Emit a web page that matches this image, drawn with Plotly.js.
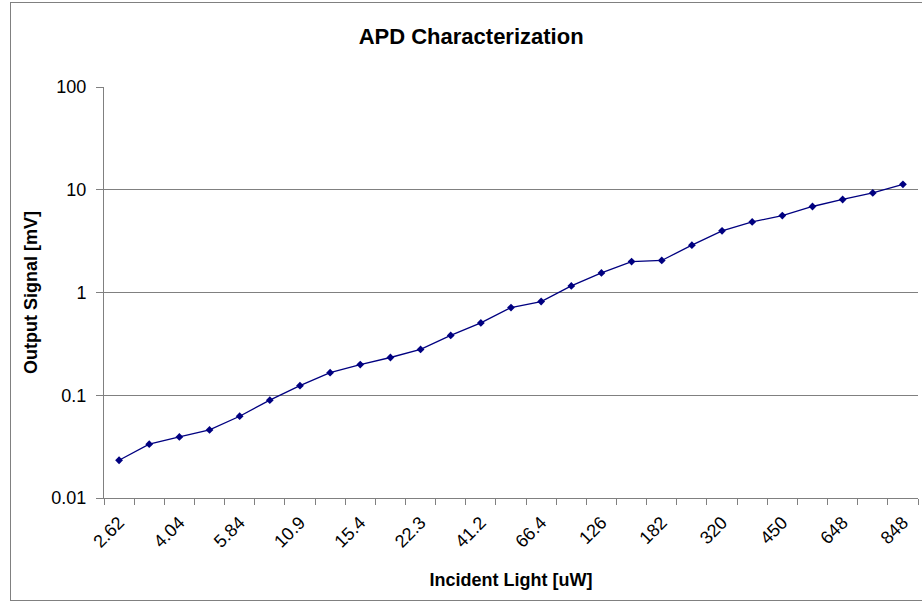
<!DOCTYPE html>
<html>
<head>
<meta charset="utf-8">
<script src="https://cdn.plot.ly/plotly-3.0.1.min.js"></script>
<style>
  html, body { margin: 0; padding: 0; overflow: hidden; background: #ffffff; }
  #chart { position: absolute; left: 0; top: 0; width: 922px; height: 602px; }
  #frame { position: absolute; left: 10px; top: 2px; width: 940px; height: 597px;
           border: 1px solid #808080; pointer-events: none; }
</style>
</head>
<body>
<div id="chart"></div>
<div id="frame"></div>
<script>
// Incident light levels (uW), one category per measurement
const incidentLight = [
  '2.62', '3.3', '4.04', '4.9', '5.84', '8.1', '10.9', '13.1', '15.4', '18.6',
  '22.3', '31.5', '41.2', '53.8', '66.4', '96.0', '126', '154', '182', '251',
  '320', '385', '450', '549', '648', '748', '848'
];

// Measured APD output (mV)
const outputSignal = [
  0.0233, 0.0334, 0.0393, 0.0460, 0.0625, 0.0895, 0.124, 0.166, 0.199, 0.233,
  0.279, 0.382, 0.506, 0.714, 0.817, 1.16, 1.55, 2.00, 2.05, 2.89,
  3.98, 4.86, 5.61, 6.87, 8.04, 9.32, 11.3
];

// Only every second category carries a visible label
const xTickText = incidentLight.map((c, i) => (i % 2 === 0 ? c : ''));

// Decade labels on the log axis
const yTickVals = [0.01, 0.1, 1, 10, 100];
const yTickText = ['0.01', '0.1', '1', '10', '100'];

const FONT = 'Liberation Sans, Arial, sans-serif';
const GRAY = '#808080';

const trace = {
  x: incidentLight,
  y: outputSignal,
  type: 'scatter',
  mode: 'lines+markers',
  line: { color: '#000080', width: 1.3 },
  marker: { symbol: 'diamond', size: 6, color: '#000080' },
  hoverinfo: 'x+y'
};

const layout = {
  width: 922,
  height: 602,
  margin: { l: 104, r: 4, t: 87, b: 104 },
  paper_bgcolor: '#ffffff',
  plot_bgcolor: '#ffffff',
  showlegend: false,
  font: { family: FONT, color: '#000000' },
  title: {
    text: '<b>APD Characterization</b>',
    font: { family: FONT, size: 22, color: '#000000' },
    x: 0.511, xanchor: 'center',
    y: 0.94, yanchor: 'middle'
  },
  xaxis: {
    type: 'category',
    range: [-0.5, incidentLight.length - 0.5],
    tickmode: 'array',
    tickvals: incidentLight,
    ticktext: xTickText,
    tickson: 'boundaries',
    ticks: 'outside',
    ticklen: 6,
    tickcolor: GRAY,
    tickwidth: 1,
    tickangle: -45,
    ticklabelstandoff: 6,
    tickfont: { family: FONT, size: 18, color: '#000000' },
    showline: true,
    linecolor: GRAY,
    linewidth: 1,
    showgrid: false,
    zeroline: false,
    title: {
      text: '<b>Incident Light [uW]</b>',
      font: { family: FONT, size: 18, color: '#000000' },
      standoff: 22
    }
  },
  yaxis: {
    type: 'log',
    range: [-2, 2],
    tickmode: 'array',
    tickvals: yTickVals,
    ticktext: yTickText,
    ticks: 'outside',
    ticklen: 7,
    tickcolor: GRAY,
    tickwidth: 1,
    ticklabelstandoff: 6,
    tickfont: { family: FONT, size: 18, color: '#000000' },
    showline: true,
    linecolor: GRAY,
    linewidth: 1,
    showgrid: true,
    gridcolor: GRAY,
    gridwidth: 1,
    zeroline: false,
    title: {
      text: '<b>Output Signal [mV]</b>',
      font: { family: FONT, size: 18, color: '#000000' },
      standoff: 9
    }
  }
};

Plotly.newPlot('chart', [trace], layout, { displayModeBar: false, staticPlot: true });
</script>
</body>
</html>
